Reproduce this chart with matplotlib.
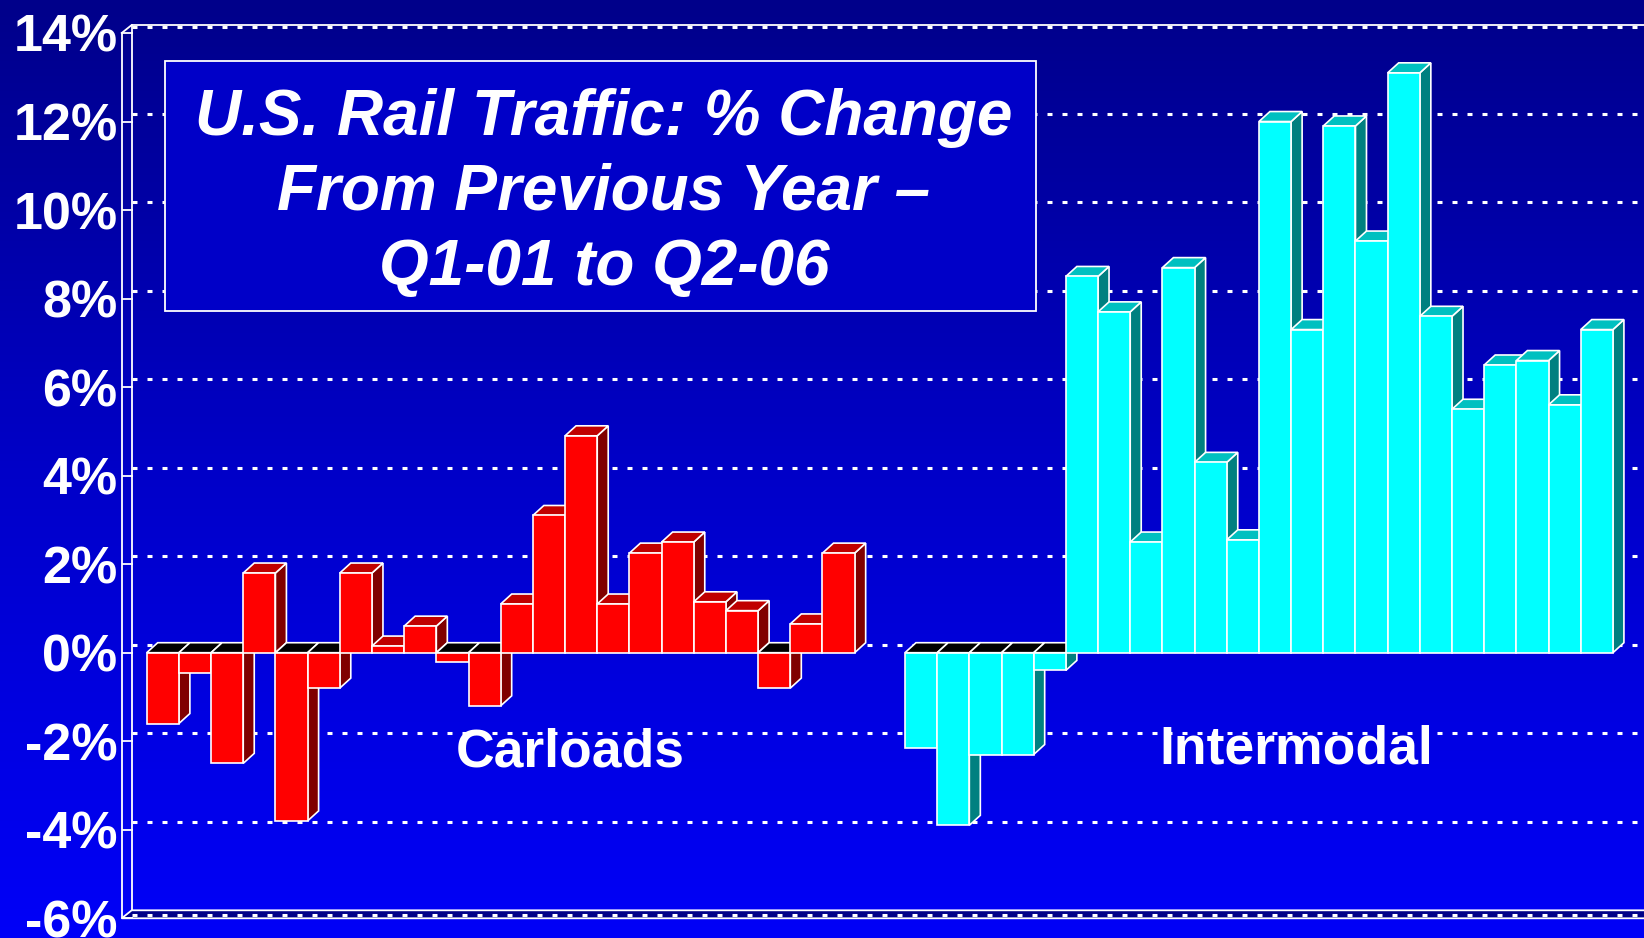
import numpy as np
import matplotlib.pyplot as plt
from matplotlib.patches import Polygon, Rectangle
from matplotlib.colors import LinearSegmentedColormap

plt.rcParams['font.family'] = ['Liberation Sans', 'DejaVu Sans']
plt.rcParams['lines.scale_dashes'] = False

# % change from previous year, Q1-01 .. Q2-06
quarters = ['Q%d-%02d' % (q, y) for y in range(1, 7) for q in range(1, 5)][:22]
carloads = [-1.6, -0.45, -2.5, 1.8, -3.8, -0.8, 1.8, 0.15, 0.6, -0.2, -1.2,
            1.1, 3.1, 4.9, 1.1, 2.25, 2.5, 1.15, 0.95, -0.8, 0.65, 2.25]
intermodal = [-2.15, -3.9, -2.3, -2.3, -0.4, 8.5, 7.7, 2.5, 8.7, 4.3, 2.55,
              12.0, 7.3, 11.9, 9.3, 13.1, 7.6, 5.5, 6.5, 6.6, 5.6, 7.3]
yticks = list(range(-6, 16, 2))
title_lines = ['U.S. Rail Traffic: % Change', 'From Previous Year \u2013', 'Q1-01 to Q2-06']

W, H = 1644, 938
fig = plt.figure(figsize=(W / 100, H / 100), dpi=100)

# background gradient
bg = fig.add_axes([0, 0, 1, 1], zorder=-10)
cmap = LinearSegmentedColormap.from_list('bg', ['#00008a', '#0000c8', '#0000f8'])
bg.imshow(np.linspace(0, 1, 256)[:, None], aspect='auto', cmap=cmap, extent=[0, 1, 0, 1])
bg.axis('off')

# pixel geometry of the 3d frame
px_bar, px_pct = 32.18, 44.27
x_front, y_top, y_bot = 121.7, 33.0, 918.3
wx, wy = 10 / px_bar, 8 / px_pct      # back wall offset
bx, by = 11 / px_bar, 10 / px_pct     # bar depth

ax = fig.add_axes([x_front / W, (H - y_bot) / H, (W - x_front) / W, (y_bot - y_top) / H])
xmax = (W - x_front) / px_bar
ax.set_xlim(0, xmax)
ax.set_ylim(-6, 14)
ax.patch.set_alpha(0)
for s in ['top', 'right', 'bottom']:
    ax.spines[s].set_visible(False)
ax.spines['left'].set_color('white')
ax.spines['left'].set_linewidth(1.3)
ax.set_xticks([])
ax.set_yticks(yticks)
ax.set_yticklabels(['%d%%' % t for t in yticks])
ax.tick_params(axis='y', direction='in', length=8, width=1.3, colors='white',
               labelsize=37.5, pad=3)
for lab in ax.get_yticklabels():
    lab.set_fontweight('bold')

wl = dict(color='white', lw=1.3, clip_on=False, zorder=1)
dash = dict(color='white', lw=2.2, dashes=(3.6, 7.2), clip_on=False, zorder=1)

# walls and floor
ax.add_patch(Polygon([(0, -6), (xmax + 1, -6), (xmax + 1 + wx, -6 + wy), (wx, -6 + wy)],
                     closed=True, facecolor='#000088', edgecolor='white', lw=1.3,
                     clip_on=False, zorder=1))
ax.plot([xmax * 0 + wx, xmax + 1], [-6 + wy * 0.45] * 2, **dash)
ax.plot([wx, wx], [-6 + wy, 14 + wy], **wl)
ax.plot([0, wx, xmax + 1], [14, 14 + wy, 14 + wy], **wl)
ax.plot([wx, xmax + 1], [14 + wy - 0.04] * 2, **dash)
for t in range(-4, 14, 2):
    ax.plot([wx, xmax + 1], [t + wy] * 2, **dash)


def draw_bar(x0, v, cfront, ctop, cside):
    yt = max(v, 0)
    side = [(x0 + 1, 0), (x0 + 1 + bx, by), (x0 + 1 + bx, v + by), (x0 + 1, v)]
    top = [(x0, yt), (x0 + 1, yt), (x0 + 1 + bx, yt + by), (x0 + bx, yt + by)]
    kw = dict(edgecolor='white', lw=1.2, joinstyle='miter', zorder=3, clip_on=False)
    ax.add_patch(Polygon(side, closed=True, facecolor=cside, **kw))
    ax.add_patch(Polygon(top, closed=True, facecolor=ctop if v >= 0 else 'black', **kw))
    ax.add_patch(Rectangle((x0, min(v, 0)), 1, abs(v), facecolor=cfront, **kw))


for i, v in enumerate(carloads):
    draw_bar(0.777 + i, v, '#ff0000', '#c00000', '#800000')
for i, v in enumerate(intermodal):
    draw_bar(24.34 + i, v, '#00ffff', '#00c0c0', '#008080')

# title box
fig.add_artist(Rectangle((165 / W, 1 - 311.5 / H), (1036 - 165) / W, (311.5 - 60.7) / H,
                         transform=fig.transFigure, facecolor='#0000c8',
                         edgecolor='white', lw=1.3))
for yb, line in zip([135, 210, 285], title_lines):
    fig.text(604 / W, 1 - yb / H, line, ha='center', va='baseline', color='white',
             fontsize=46, fontweight='bold', fontstyle='italic')

fig.text(570.7 / W, 1 - 766.7 / H, 'Carloads', ha='center', va='baseline',
         color='white', fontsize=38.5, fontweight='bold')
fig.text(1296.7 / W, 1 - 763.3 / H, 'Intermodal', ha='center', va='baseline',
         color='white', fontsize=38.5, fontweight='bold')

fig.savefig('out.png', dpi=100)
